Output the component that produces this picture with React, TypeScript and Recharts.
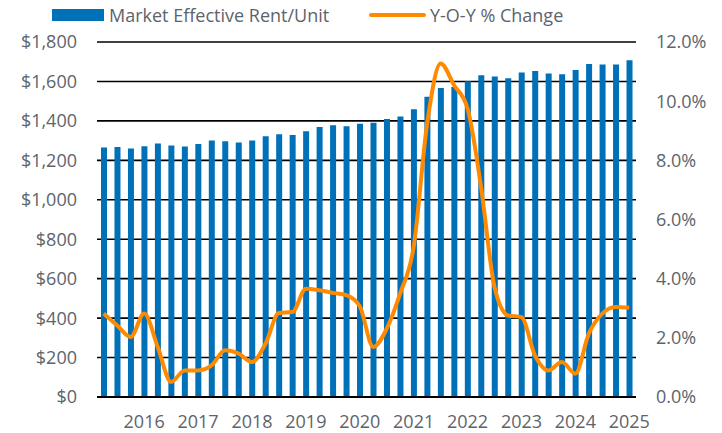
import {
	Bar,
	CartesianGrid,
	ComposedChart,
	Line,
	XAxis,
	YAxis,
} from "recharts";

const quarters = [
	"2015 Q2", "2015 Q3", "2015 Q4",
	"2016 Q1", "2016 Q2", "2016 Q3", "2016 Q4",
	"2017 Q1", "2017 Q2", "2017 Q3", "2017 Q4",
	"2018 Q1", "2018 Q2", "2018 Q3", "2018 Q4",
	"2019 Q1", "2019 Q2", "2019 Q3", "2019 Q4",
	"2020 Q1", "2020 Q2", "2020 Q3", "2020 Q4",
	"2021 Q1", "2021 Q2", "2021 Q3", "2021 Q4",
	"2022 Q1", "2022 Q2", "2022 Q3", "2022 Q4",
	"2023 Q1", "2023 Q2", "2023 Q3", "2023 Q4",
	"2024 Q1", "2024 Q2", "2024 Q3", "2024 Q4",
	"2025 Q1",
];

const rentPerUnit = [
	1265, 1268, 1260, 1271, 1285, 1275, 1270, 1283, 1300, 1297, 1290, 1300,
	1322, 1332, 1329, 1347, 1369, 1378, 1373, 1386, 1391, 1410, 1422, 1459,
	1523, 1567, 1572, 1601, 1631, 1625, 1616, 1645, 1653, 1640, 1636, 1658,
	1689, 1686, 1686, 1707,
];

const yoyChange = [
	2.82, 2.42, 2.03, 2.82, 1.7, 0.51, 0.9, 0.9, 1.07, 1.58, 1.47, 1.18, 1.8,
	2.84, 2.87, 3.66, 3.61, 3.52, 3.44, 3.07, 1.69, 2.31, 3.5, 5.07, 9.24,
	11.27, 10.54, 9.75, 7.1, 3.72, 2.76, 2.7, 1.41, 0.9, 1.18, 0.79, 2.14,
	2.82, 3.04, 3.02,
];

const yearTicks = [
	"2016 Q1", "2017 Q1", "2018 Q1", "2019 Q1", "2020 Q1",
	"2021 Q1", "2022 Q1", "2023 Q1", "2024 Q1", "2025 Q1",
];
const rentTicks = [0, 200, 400, 600, 800, 1000, 1200, 1400, 1600, 1800];
const pctTicks = [0, 2, 4, 6, 8, 10, 12];
const RENT_MAX = 1800;

const BLUE = "#0070b8";
const ORANGE = "#ff8a00";
const TEXT = "#5d646b";
const FONT = "'Open Sans', sans-serif";

const data = quarters.map((quarter, i) => ({
	quarter,
	rent: rentPerUnit[i],
	yoy: yoyChange[i],
}));

const tickStyle = { fill: TEXT, fontSize: 18, fontFamily: FONT };

function LegendRow() {
	return (
		<div
			style={{
				position: "absolute",
				left: 0,
				top: 0,
				width: 722,
				height: 30,
				fontFamily: FONT,
				fontSize: 18,
				color: TEXT,
			}}
		>
			<div
				style={{
					position: "absolute",
					left: 52,
					top: 9,
					width: 52,
					height: 12,
					background: BLUE,
				}}
			/>
			<span
				style={{ position: "absolute", left: 109, top: 2, lineHeight: "26px" }}
			>
				Market Effective Rent/Unit
			</span>
			<div
				style={{
					position: "absolute",
					left: 369,
					top: 13,
					width: 57,
					height: 4,
					borderRadius: 2,
					background: ORANGE,
				}}
			/>
			<span
				style={{ position: "absolute", left: 430, top: 2, lineHeight: "26px" }}
			>
				Y-O-Y % Change
			</span>
		</div>
	);
}

export default function App() {
	return (
		<div
			style={{
				position: "absolute",
				left: 0,
				top: 0,
				width: 722,
				height: 433,
				background: "#fff",
			}}
		>
			<LegendRow />
			<ComposedChart
				width={722}
				height={433}
				data={data}
				margin={{ top: 42, right: 0, bottom: 0, left: 0 }}
				barSize={6}
			>
				{/* gridlines follow the left axis ticks, drawn behind the bars */}
				<CartesianGrid
					vertical={false}
					stroke="#000"
					strokeWidth={1.6}
					horizontalCoordinatesGenerator={({ offset }: any) =>
						rentTicks
							.slice(1)
							.map((t) => offset.top + offset.height * (1 - t / RENT_MAX))
					}
				/>
				<XAxis
					dataKey="quarter"
					ticks={yearTicks}
					interval={0}
					tickFormatter={(q: string) => q.slice(0, 4)}
					height={36}
					tickLine={false}
					axisLine={{ stroke: "#000", strokeWidth: 2 }}
					tickSize={0}
					tickMargin={18}
					tick={tickStyle}
				/>
				<YAxis
					yAxisId="rent"
					orientation="left"
					domain={[0, RENT_MAX]}
					ticks={rentTicks}
					width={97}
					axisLine={false}
					tickLine={false}
					tickSize={0}
					tickMargin={20}
					tick={tickStyle}
					tickFormatter={(v: number) => `$${v.toLocaleString("en-US")}`}
				/>
				<YAxis
					yAxisId="pct"
					orientation="right"
					domain={[0, 12]}
					ticks={pctTicks}
					width={86}
					axisLine={false}
					tickLine={false}
					tickSize={0}
					tickMargin={20}
					tick={tickStyle}
					tickFormatter={(v: number) => `${v.toFixed(1)}%`}
				/>
				<Bar
					yAxisId="rent"
					dataKey="rent"
					fill={BLUE}
					isAnimationActive={false}
				/>
				<Line
					yAxisId="pct"
					dataKey="yoy"
					type="monotone"
					stroke={ORANGE}
					strokeWidth={4}
					dot={false}
					isAnimationActive={false}
				/>
			</ComposedChart>
		</div>
	);
}
